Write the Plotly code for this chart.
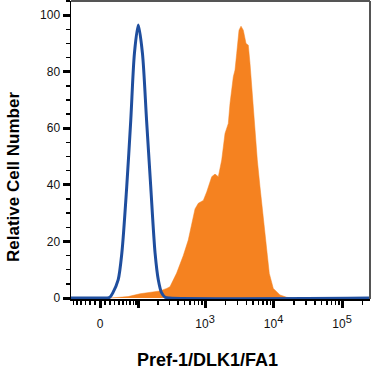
import numpy as np
import plotly.graph_objects as go

# ---- data (raw fluorescence intensity, relative cell number) ----
iso_x = [-70, 0, 15, 20, 26, 38, 47, 60, 72, 84, 98, 115, 134, 156, 182, 204, 229, 258, 300, 300000]
iso_y = [0, 0, 0, 0.3, 1.8, 6.4, 15.9, 39.3, 62.9, 86.5, 96.5, 86.5, 62.9, 39.3, 15.9, 6.4, 1.8, 0.3, 0, 0]

pref_x = [20, 64, 105, 152, 216, 273, 305, 383, 480, 568, 673, 713, 797, 943, 1057, 1252, 1399,
          1563, 1752, 1957, 2187, 2316, 2588, 2740, 2901, 3133, 3352, 3621, 3967, 4284, 4536,
          4969, 5362, 5796, 6346, 6950, 7765, 8673, 9921, 12423, 15576, 18606]
pref_y = [0, 0.5, 1.5, 2.0, 2.5, 3.4, 4.0, 8.8, 15.0, 20.5, 29.5, 31.5, 33.5, 34.5, 37.5, 42.9, 43.8,
          42.9, 48.8, 58.2, 61.7, 68.8, 78.2, 80.6, 86.5, 94.7, 96.1, 94.7, 90.0, 89.4, 82.9,
          68.8, 59.4, 48.8, 39.3, 29.9, 18.1, 8.7, 3.4, 1.1, 0.25, 0]

x_major = [0, 100, 1000, 10000, 100000]
x_major_text = ["0", "",
                "10<sup><span style='font-size:11px'>3</span></sup>",
                "10<sup><span style='font-size:11px'>4</span></sup>",
                "10<sup><span style='font-size:11px'>5</span></sup>"]
x_minor = ([-60, -50, -40, -30, -20, -10] + list(range(10, 100, 10)) + list(range(200, 1000, 100))
           + list(range(2000, 10000, 1000)) + list(range(20000, 100000, 10000)) + [200000])
y_major = [0, 20, 40, 60, 80, 100]

# biexponential-like (arcsinh) display scale
C = 58.6
def biex(v):
    return np.arcsinh(np.asarray(v, dtype=float) / C) / np.log(10)

FONT = "Liberation Sans, Arial, Helvetica, sans-serif"
ORANGE = "#F58220"
BLUE = "#1F4E9E"

fig = go.Figure()
fig.add_trace(go.Scatter(x=biex(pref_x), y=pref_y, mode="lines", fill="tozeroy",
                         line=dict(color=ORANGE, width=0.5), fillcolor=ORANGE,
                         hoverinfo="skip", showlegend=False))
fig.add_trace(go.Scatter(x=biex(iso_x), y=iso_y, mode="lines",
                         line=dict(color=BLUE, width=3, shape="spline", smoothing=0.8),
                         hoverinfo="skip", showlegend=False))

fig.update_layout(
    width=372, height=373,
    margin=dict(l=71, r=2, t=1, b=74),
    paper_bgcolor="white", plot_bgcolor="white",
    font=dict(family=FONT, color="#111", size=12),
    xaxis=dict(range=[-0.4234, 3.9416], showgrid=False, zeroline=False,
               showline=True, linecolor="black", linewidth=1.5,
               tickmode="array", tickvals=biex(x_major), ticktext=x_major_text,
               ticks="outside", ticklen=7, tickwidth=3, tickcolor="black",
               ticklabelstandoff=6,
               tickfont=dict(size=12, family=FONT),
               minor=dict(tickmode="array", tickvals=biex(x_minor), ticks="outside",
                          ticklen=4, tickwidth=1.5, tickcolor="black", showgrid=False)),
    yaxis=dict(range=[-0.35, 105], showgrid=False, zeroline=False,
               showline=True, linecolor="black", linewidth=1.5,
               tickmode="array", tickvals=y_major,
               ticks="outside", ticklen=7, tickwidth=3, tickcolor="black",
               tickfont=dict(size=12, family=FONT),
               minor=dict(dtick=5, ticks="outside", ticklen=4, tickwidth=1.5,
                          tickcolor="black", showgrid=False)),
    shapes=[
        dict(type="line", xref="paper", yref="paper", x0=0, x1=1, y0=1, y1=1,
             line=dict(color="#555", width=2)),
        dict(type="line", xref="paper", yref="paper", x0=1, x1=1, y0=0, y1=1,
             line=dict(color="#555", width=2)),
    ],
    annotations=[
        dict(text="<b>Pref-1/DLK1/FA1</b>", xref="paper", yref="paper",
             x=0.455, y=-0.205, xanchor="center", yanchor="middle", showarrow=False,
             font=dict(size=18, family=FONT, color="black")),
        dict(text="<b>Relative Cell Number</b>", xref="paper", yref="paper",
             x=-0.19, y=0.41, xanchor="center", yanchor="middle", showarrow=False,
             textangle=-90, font=dict(size=17, family=FONT, color="black")),
    ],
)

fig.write_html("out.html", config={"displayModeBar": False, "staticPlot": True},
               post_script="document.body.style.margin='0';document.body.style.overflow='hidden';")
